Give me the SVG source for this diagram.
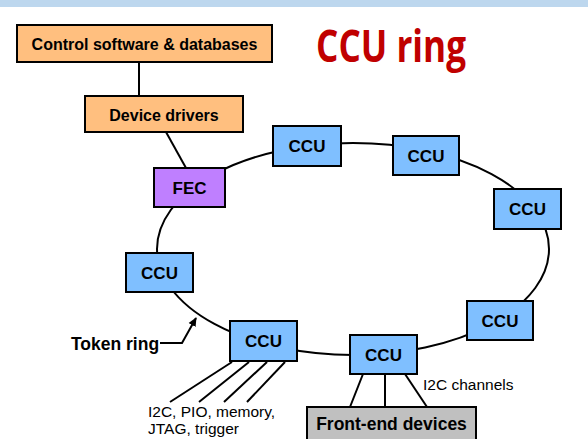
<svg xmlns="http://www.w3.org/2000/svg" width="588" height="439" viewBox="0 0 588 439">
<defs>
<style>
.box{stroke:#000;stroke-width:2}
.org{fill:#FFBF7F}
.blu{fill:#7FBFFF}
.pur{fill:#BF7FFF}
.gry{fill:#C0C0C0}
.t{font-family:"Liberation Sans",Arial,sans-serif;font-weight:bold;fill:#000;text-anchor:middle}
.ccu{font-size:17px}
.n{font-family:"Liberation Sans",Arial,sans-serif;font-size:15.5px;fill:#000}
.ln{stroke:#000;stroke-width:2;fill:none}
</style>
<marker id="ah" markerWidth="10" markerHeight="10" refX="8" refY="5" orient="auto" markerUnits="userSpaceOnUse">
<path d="M0,1 L9,5 L0,9 Z" fill="#000"/>
</marker>
</defs>
<rect x="0" y="0" width="588" height="7" fill="#BDD7EE"/>
<text x="391" y="62" font-family="Open Sans,Noto Sans,sans-serif" font-weight="bold" font-size="44" fill="#C00000" text-anchor="middle" textLength="150" lengthAdjust="spacingAndGlyphs">CCU ring</text>
<g id="connectors">
<ellipse class="ln" cx="353" cy="249" rx="196" ry="106"/>
<line class="ln" x1="139" y1="62" x2="139" y2="96"/>
<line class="ln" x1="166" y1="132" x2="186" y2="168"/>
<polyline class="ln" points="160,343 182,343 196,318" marker-end="url(#ah)"/>
<line class="ln" x1="232" y1="362" x2="170" y2="402"/>
<line class="ln" x1="249" y1="362" x2="199" y2="402"/>
<line class="ln" x1="267" y1="362" x2="224" y2="402"/>
<line class="ln" x1="285" y1="362" x2="247" y2="402"/>
<line class="ln" x1="363" y1="374" x2="350" y2="407"/>
<line class="ln" x1="385" y1="374" x2="385" y2="407"/>
<line class="ln" x1="405" y1="374" x2="427" y2="407"/>
</g>
<g id="control"><rect class="box org" x="17" y="25" width="255" height="37"/><text class="t" x="144.5" y="50" font-size="16">Control software &amp; databases</text></g>
<g id="drivers"><rect class="box org" x="85" y="96" width="158" height="36"/><text class="t" x="164" y="121" font-size="16">Device drivers</text></g>
<g id="fec"><rect class="box pur" x="154" y="168" width="71" height="39"/><text class="t ccu" x="189.5" y="194">FEC</text></g>
<g id="ccu1"><rect class="box blu" x="273" y="126" width="68" height="40"/><text class="t ccu" x="307" y="152">CCU</text></g>
<g id="ccu2"><rect class="box blu" x="393" y="136" width="66" height="39"/><text class="t ccu" x="426" y="162">CCU</text></g>
<g id="ccu3"><rect class="box blu" x="494" y="189" width="67" height="40"/><text class="t ccu" x="527.5" y="215">CCU</text></g>
<g id="ccu4"><rect class="box blu" x="467" y="301" width="66" height="39"/><text class="t ccu" x="500" y="327">CCU</text></g>
<g id="ccu5"><rect class="box blu" x="350" y="335" width="67" height="39"/><text class="t ccu" x="383.5" y="361">CCU</text></g>
<g id="ccu6"><rect class="box blu" x="230" y="321" width="67" height="40"/><text class="t ccu" x="263.5" y="347">CCU</text></g>
<g id="ccu7"><rect class="box blu" x="126" y="253" width="67" height="39"/><text class="t ccu" x="159.5" y="279">CCU</text></g>
<g id="frontend"><rect class="box gry" x="307" y="407" width="169" height="40"/><text class="t" x="391.5" y="430" font-size="17.5">Front-end devices</text></g>
<g id="labels">
<text class="t" x="115" y="350" font-size="17.5">Token ring</text>
<text class="n" x="148" y="417">I2C, PIO, memory,</text>
<text class="n" x="148" y="434">JTAG, trigger</text>
<text class="n" x="423" y="390">I2C channels</text>
</g>
</svg>
